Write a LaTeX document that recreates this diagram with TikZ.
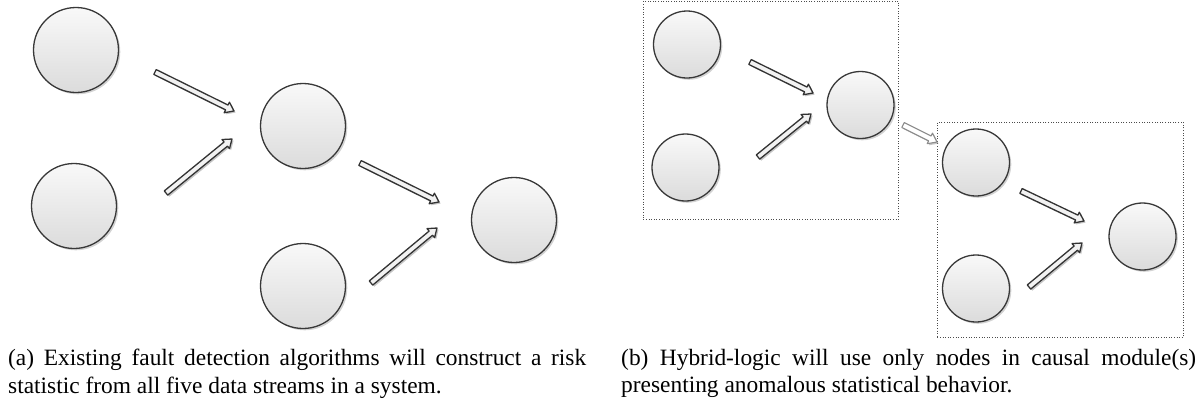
\documentclass[tikz,border=0pt]{standalone}
\usepackage{fontspec}
\setmainfont{Liberation Serif}
\usetikzlibrary{shadows,calc}
\tikzset{
  bignode/.style={circle, draw=black!78, line width=1.3pt, minimum size=85pt, inner sep=0pt,
    top color=gray!5, bottom color=gray!28,
    drop shadow={shadow xshift=1.8pt, shadow yshift=-1.8pt, opacity=0.35}},
  smallnode/.style={bignode, minimum size=67pt},
  blockarrow/.style={draw=black!80, line width=1.3pt, fill=gray!10, line join=round,
    drop shadow={shadow xshift=1.6pt, shadow yshift=-1.6pt, opacity=0.45},
    to path={let \p1=(\tikztostart), \p2=(\tikztotarget),
      \n1={atan2(\y2-\y1,\x2-\x1)}, \n2={veclen(\x2-\x1,\y2-\y1)} in
      [shift={(\p1)}, rotate=\n1]
      (0pt,-2.7pt) -- (\n2-8pt,-2.7pt) -- (\n2-8pt,-5.9pt) -- (\n2,0pt)
      -- (\n2-8pt,5.9pt) -- (\n2-8pt,2.7pt) -- (0pt,2.7pt) -- cycle}},
  lightarrow/.style={blockarrow, draw=black!45, line width=1.1pt, fill=white, drop shadow={opacity=0}},
  modulebox/.style={draw=black!70, line width=0.9pt, dash pattern=on 1pt off 1.6pt},
  caption/.style={anchor=north west, inner sep=0pt, align=justify,
    font=\fontsize{23.4}{27.5}\selectfont}
}
\begin{document}
\begin{tikzpicture}[x=1pt,y=-1pt]
\path[use as bounding box] (0,0) rectangle (1201,413);

% ---- panel (a) ----
\node[bignode] (A) at (76,50) {};
\node[bignode] (B) at (74,206) {};
\node[bignode] (C) at (303,126) {};
\node[bignode] (D) at (303,286) {};
\node[bignode] (E) at (514,220) {};

\coordinate (ac1) at (155,72);  \coordinate (ac2) at (234,111);
\coordinate (bc1) at (166,193); \coordinate (bc2) at (232,139);
\coordinate (ce1) at (360,163); \coordinate (ce2) at (439,202);
\coordinate (de1) at (371,283); \coordinate (de2) at (437,228);
\draw[blockarrow] (ac1) to (ac2);
\draw[blockarrow] (bc1) to (bc2);
\draw[blockarrow] (ce1) to (ce2);
\draw[blockarrow] (de1) to (de2);

% ---- panel (b) ----
\node[modulebox, minimum width=255pt, minimum height=218pt, anchor=north west] (M1) at (643,1) {};
\node[modulebox, minimum width=246pt, minimum height=215pt, anchor=north west] (M2) at (937,122) {};

\node[smallnode] (F) at (687,44.5) {};
\node[smallnode] (G) at (685.5,167.5) {};
\node[smallnode] (H) at (860.5,105) {};
\node[smallnode] (I) at (976,162.5) {};
\node[smallnode] (J) at (976,288.5) {};
\node[smallnode] (K) at (1142.5,236.5) {};

\coordinate (fh1) at (750,62);   \coordinate (fh2) at (813,93);
\coordinate (gh1) at (758,157);  \coordinate (gh2) at (811,114);
\coordinate (ik1) at (1021,191); \coordinate (ik2) at (1084,221);
\coordinate (jk1) at (1029,287); \coordinate (jk2) at (1082,243);
\coordinate (hm1) at (903,125);  \coordinate (hm2) at (937,142);
\draw[blockarrow] (fh1) to (fh2);
\draw[blockarrow] (gh1) to (gh2);
\draw[blockarrow] (ik1) to (ik2);
\draw[blockarrow] (jk1) to (jk2);
\draw[lightarrow] (hm1) to (hm2);

% ---- captions ----
\node[caption, text width=578pt] (capA) at (8,349)
  {(a) Existing fault detection algorithms will construct a risk\linebreak
   statistic from all five data streams in a system.};
\node[caption, text width=575pt] (capB) at (621,349)
  {(b) Hybrid-logic will use only nodes in causal module(s)\linebreak
   presenting anomalous statistical behavior.};
\end{tikzpicture}
\end{document}
